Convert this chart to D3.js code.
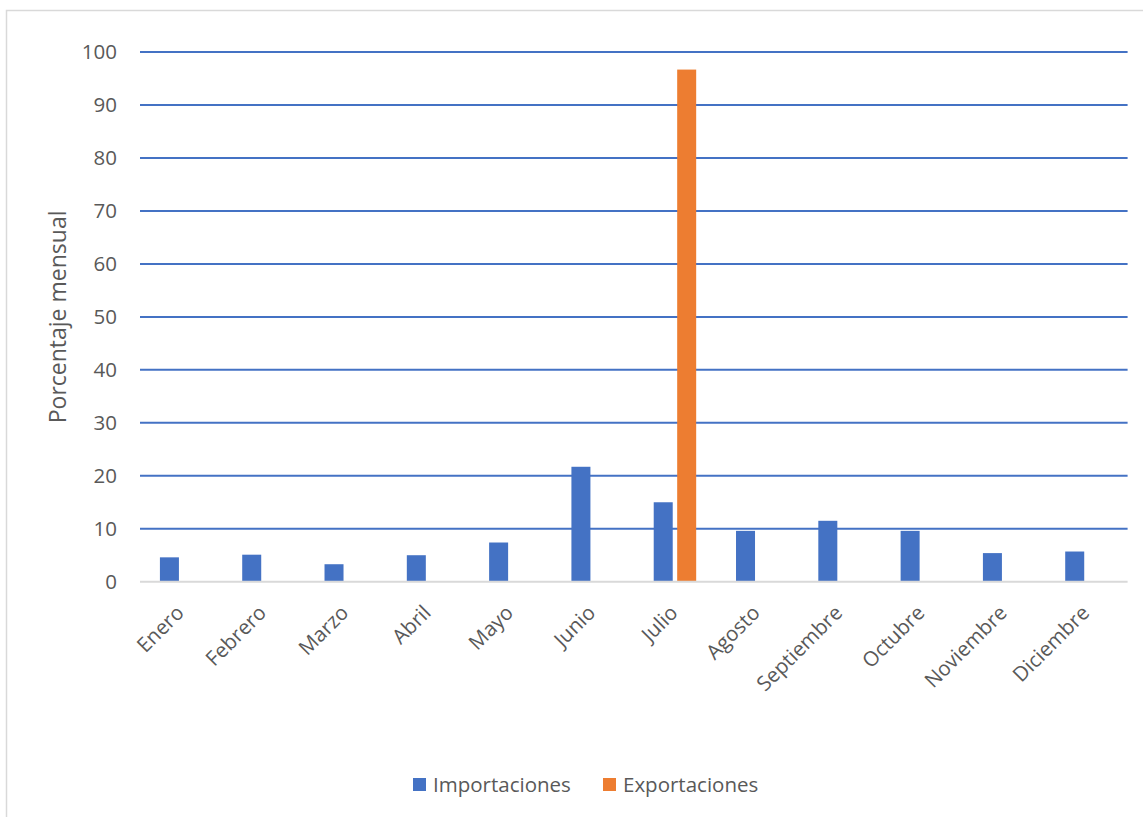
<!DOCTYPE html>
<html><head><meta charset="utf-8">
<script src="https://cdn.jsdelivr.net/npm/d3@7"></script>
<style>body{margin:0;background:#fff;overflow:hidden}svg{display:block}text{font-family:"Open Sans",sans-serif;fill:#595959}</style>
</head><body>
<svg id="c" width="1143" height="817"></svg>
<script>
const months = ["Enero","Febrero","Marzo","Abril","Mayo","Junio","Julio","Agosto","Septiembre","Octubre","Noviembre","Diciembre"];
const series = ["Importaciones","Exportaciones"];
const importaciones = [4.6,5.1,3.3,5.0,7.4,21.7,15.0,9.6,11.5,9.6,5.4,5.7];
const exportaciones = [0,0,0,0,0,0,96.7,0,0,0,0,0];
const yTicks = [0,10,20,30,40,50,60,70,80,90,100];
const colors = ["#4472C4","#ED7D31"];

const svg = d3.select("#c");
svg.append("rect").attr("x",6.5).attr("y",10.5).attr("width",1160).attr("height",830)
  .attr("fill","#fff").attr("stroke","#d9d9d9").attr("stroke-width",1.5);

const L=140,R=1127.6,T=52.1,B=581.7;
const y = d3.scaleLinear().domain([0,100]).range([B,T]);
const x0 = d3.scaleBand().domain(months).range([L,R]).paddingInner(0.484).paddingOuter(0.242);
const x1 = d3.scaleBand().domain(series).range([0,x0.bandwidth()]).paddingInner(0.19);

// gridlines
svg.append("g").selectAll("line").data(yTicks.filter(d=>d>0)).join("line")
  .attr("x1",L).attr("x2",R).attr("y1",d=>y(d)).attr("y2",d=>y(d))
  .attr("stroke","#4472C4").attr("stroke-width",2);

// y tick labels
svg.append("g").selectAll("text").data(yTicks).join("text")
  .attr("x",117).attr("y",d=>y(d)).attr("dy","0.35em").attr("text-anchor","end")
  .attr("font-size",20.5).text(d=>d);

// bars
const data = months.map((m,i)=>({m, vals:[importaciones[i],exportaciones[i]]}));
const g = svg.append("g").selectAll("g").data(data).join("g")
  .attr("transform",d=>`translate(${x0(d.m)},0)`);
g.selectAll("rect").data(d=>d.vals.map((v,j)=>({s:series[j],v,j})).filter(e=>e.v>0)).join("rect")
  .attr("x",d=>x1(d.s)).attr("width",x1.bandwidth())
  .attr("y",d=>y(d.v)).attr("height",d=>y(0)-y(d.v))
  .attr("fill",d=>colors[d.j]);

// baseline
svg.append("line").attr("x1",L).attr("x2",R).attr("y1",B).attr("y2",B)
  .attr("stroke","#d9d9d9").attr("stroke-width",2);

// x labels
const xc = m => x0(m)+x0.bandwidth()/2;
svg.append("g").selectAll("text").data(months).join("text")
  .attr("transform",m=>`translate(${xc(m)-1},${609}) rotate(-45)`)
  .attr("text-anchor","end").attr("font-size",20.5).attr("dy","0.35em").text(m=>m);

// y title
svg.append("text").attr("transform",`translate(66,${(T+B)/2}) rotate(-90)`)
  .attr("text-anchor","middle").attr("font-size",23).text("Porcentaje mensual");

// legend
const leg = [{s:"Importaciones",x:413},{s:"Exportaciones",x:603}];
const lg = svg.append("g").selectAll("g").data(leg).join("g")
  .attr("transform",d=>`translate(${d.x},778)`);
lg.append("rect").attr("width",13).attr("height",13).attr("fill",(d,i)=>colors[i]);
lg.append("text").attr("x",20).attr("y",7).attr("dy","0.35em").attr("font-size",20.5).text(d=>d.s);
</script>
</body></html>
